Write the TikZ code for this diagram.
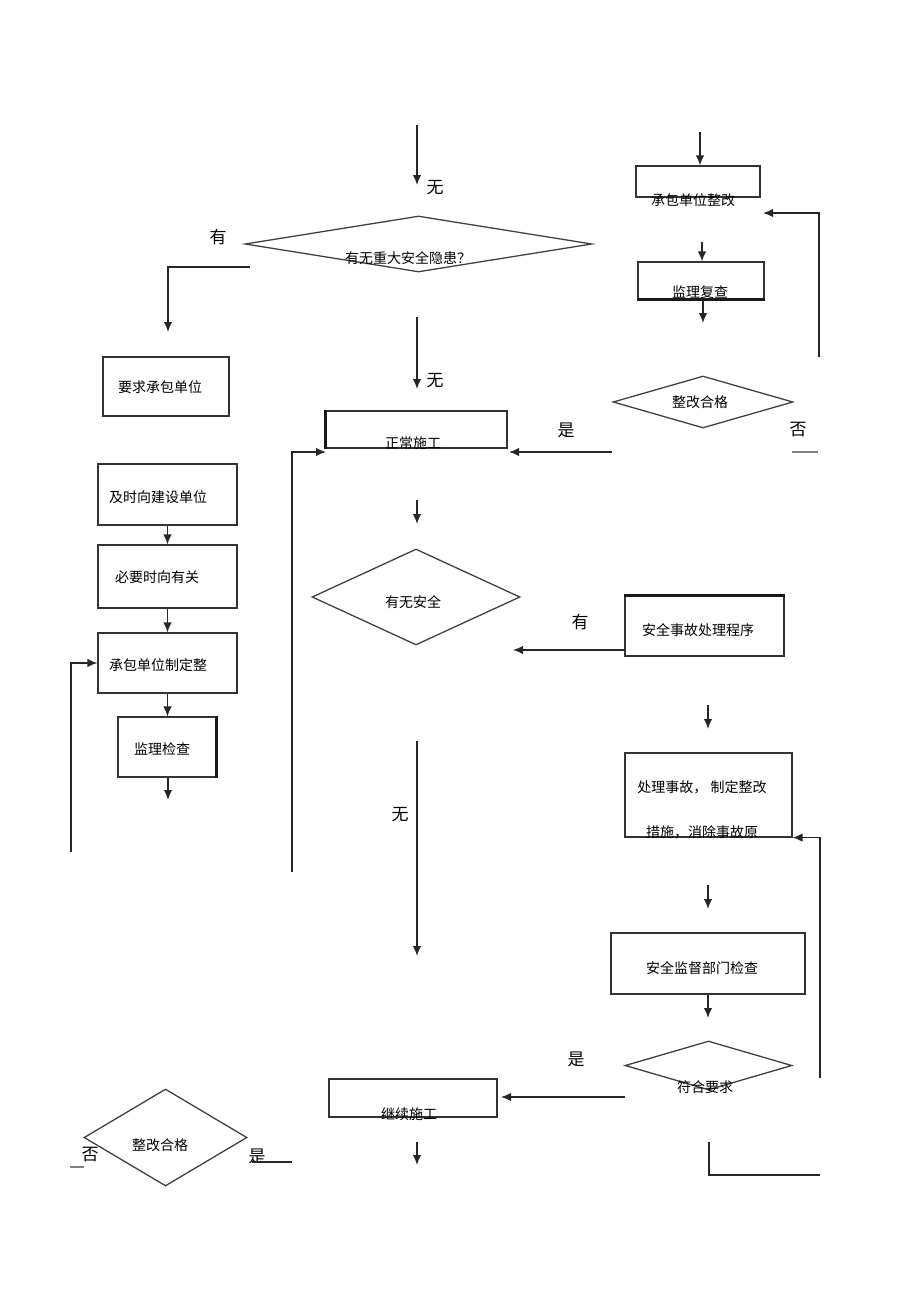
\documentclass[tikz,border=0pt]{standalone}
\usepackage{fontspec}
\newfontfamily\cjk{Noto Sans CJK SC}
\usetikzlibrary{shapes.geometric,arrows.meta}

\tikzset{
  box/.style={draw=black!80, line width=1.2pt, inner sep=0pt},
  dec/.style={diamond, draw=black!75, line width=1.3pt, inner sep=0pt},
  txt/.style={font=\cjk\fontsize{14}{16}\selectfont, inner sep=0pt},
  lab/.style={font=\cjk\fontsize{17}{20}\selectfont, inner sep=0pt},
  arr/.style={draw=black!85, line width=1.5pt, -{Latex[length=10pt,width=8.5pt]}},
  ln/.style={draw=black!85, line width=1.5pt},
  heavy/.style={draw=black!90, line width=2.6pt},
}

\begin{document}
\begin{tikzpicture}[x=1pt, y=-1pt]
  \useasboundingbox (0,0) rectangle (920,1303);
  % Define nodes
  \node[dec, minimum width=347pt, minimum height=56pt] (d1) at (418.5,244) {};
  \node[box, minimum width=124pt, minimum height=31pt] (zg) at (698,181.5) {};
  \node[box, minimum width=126pt, minimum height=37pt] (jf) at (701,280.5) {};
  \node[dec, minimum width=180pt, minimum height=52pt] (d2) at (703,402) {};
  \node[box, minimum width=126pt, minimum height=59pt] (yq) at (166,386.5) {};
  \node[box, minimum width=181pt, minimum height=37pt] (zc) at (416.5,429.5) {};
  \node[box, minimum width=139pt, minimum height=61pt] (js) at (167.5,494.5) {};
  \node[box, minimum width=139pt, minimum height=63pt] (by) at (167.5,576.5) {};
  \node[box, minimum width=139pt, minimum height=60pt] (zd) at (167.5,663) {};
  \node[box, minimum width=98pt, minimum height=60pt] (jc) at (167,747) {};
  \node[dec, minimum width=208pt, minimum height=96pt] (d3) at (416,597) {};
  \node[box, minimum width=159pt, minimum height=60pt] (sg) at (704.5,626) {};
  \node[box, minimum width=167pt, minimum height=84pt] (cl) at (708.5,795) {};
  \node[box, minimum width=194pt, minimum height=61pt] (jd) at (708,963.5) {};
  \node[dec, minimum width=167pt, minimum height=49pt] (d4) at (708.5,1065.5) {};
  \node[box, minimum width=168pt, minimum height=38pt] (jx) at (413,1098) {};
  \node[dec, minimum width=163pt, minimum height=97pt] (d5) at (165.5,1137.5) {};

  % heavier edges
  \draw[heavy] (jf.south west) -- (jf.south east);
  \draw[heavy] (zc.north west) -- (zc.south west);
  \draw[heavy] (jc.north east) -- (jc.south east);
  \draw[heavy] (sg.north west) -- (sg.north east);

  % texts
  \node[txt] (d1t) at (408,258) {有无重大安全隐患？};
  \node[txt] (zgt) at (693,200) {承包单位整改};
  \node[txt] (jft) at (700,292) {监理复查};
  \node[txt] (d2t) at (700,402) {整改合格};
  \node[txt] (yqt) at (160,387) {要求承包单位};
  \node[txt] (zct) at (413,443) {正常施工};
  \node[txt] (jst) at (158,497) {及时向建设单位};
  \node[txt] (byt) at (157,577) {必要时向有关};
  \node[txt] (zdt) at (158,665) {承包单位制定整};
  \node[txt] (jct) at (162,749) {监理检查};
  \node[txt] (d3t) at (413,602) {有无安全};
  \node[txt] (sgt) at (698,630) {安全事故处理程序};
  \node[txt, align=center] (clt) at (702,809.5) {处理事故，\ 制定整改\\[29pt]措施，消除事故原};
  \node[txt] (jdt) at (702,968) {安全监督部门检查};
  \node[txt] (d4t) at (705,1087) {符合要求};
  \node[txt] (jxt) at (409,1114) {继续施工};
  \node[txt] (d5t) at (160,1145) {整改合格};

  % labels
  \node[lab] (wu1) at (435,188) {无};
  \node[lab] (you1) at (218,237) {有};
  \node[lab] (wu2) at (435,381) {无};
  \node[lab] (shi1) at (566,430) {是};
  \node[lab] (fou1) at (798,430) {否};
  \node[lab] (you2) at (580,622) {有};
  \node[lab] (wu3) at (400,815) {无};
  \node[lab] (shi2) at (576,1059) {是};
  \node[lab] (fou2) at (90,1155) {否};
  \node[lab] (shi3) at (257,1156) {是};

  % free ends
  \coordinate (p1) at (417,125);   \coordinate (q1) at (417,185);
  \coordinate (p2) at (250,267);   \coordinate (q2) at (168,332);
  \coordinate (p3) at (417,317);   \coordinate (q3) at (417,389);
  \coordinate (p4) at (292,872);   \coordinate (q4) at (326,452);
  \coordinate (p5) at (612,452);   \coordinate (q5) at (509,452);
  \coordinate (p6) at (792,452);   \coordinate (q6) at (818,452);
  \coordinate (p7) at (700,132);
  \coordinate (p8) at (819,357);   \coordinate (q8) at (763,213);
  \coordinate (p9) at (702,242);
  \coordinate (p10) at (703,300);  \coordinate (q10) at (703,323);
  \coordinate (q11) at (168,800);
  \coordinate (p12) at (71,852);
  \coordinate (p13) at (417,500);  \coordinate (q13) at (417,524);
  \coordinate (p14) at (625,650);  \coordinate (q14) at (513,650);
  \coordinate (p15) at (708,705);  \coordinate (q15) at (708,729);
  \coordinate (p16) at (820,1078);
  \coordinate (p17) at (708,885);  \coordinate (q17) at (708,909);
  \coordinate (q18) at (708,1018);
  \coordinate (p19) at (417,741);  \coordinate (q19) at (417,956);
  \coordinate (p20) at (625,1097); \coordinate (q20) at (501,1097);
  \coordinate (p21) at (417,1142); \coordinate (q21) at (417,1165);
  \coordinate (p22) at (709,1142); \coordinate (q22) at (820,1175);
  \coordinate (p23) at (70,1167);  \coordinate (q23) at (84,1167);
  \coordinate (p24) at (252,1162); \coordinate (q24) at (292,1162);

  % connectors
  \draw[arr] (p1) -- (q1);
  \draw[arr] (p2) -| (q2);
  \draw[arr] (p3) -- (q3);
  \draw[arr] (p4) |- (q4);
  \draw[arr] (p5) -- (q5);
  \draw[ln, black!50] (p6) -- (q6);
  \draw[arr] (p7) -- (p7 |- zg.north);
  \draw[arr] (p8) |- (q8);
  \draw[arr] (p9) -- (p9 |- jf.north);
  \draw[arr] (p10) -- (q10);
  \draw[arr] (js) -- (by);
  \draw[arr] (by) -- (zd);
  \draw[arr] (zd.south) -- (zd.south |- jc.north);
  \draw[arr] (jc.south -| q11) -- (q11);
  \draw[arr] (p12) |- (zd.west);
  \draw[arr] (p13) -- (q13);
  \draw[arr] (p14) -- (q14);
  \draw[arr] (p15) -- (q15);
  \draw[arr] (p16) |- (cl.south east);
  \draw[arr] (p17) -- (q17);
  \draw[arr] (jd.south) -- (q18);
  \draw[arr] (p19) -- (q19);
  \draw[arr] (p20) -- (q20);
  \draw[arr] (p21) -- (q21);
  \draw[ln] (p22) |- (q22);
  \draw[ln, black!50] (p23) -- (q23);
  \draw[ln] (p24) -- (q24);
\end{tikzpicture}
\end{document}
